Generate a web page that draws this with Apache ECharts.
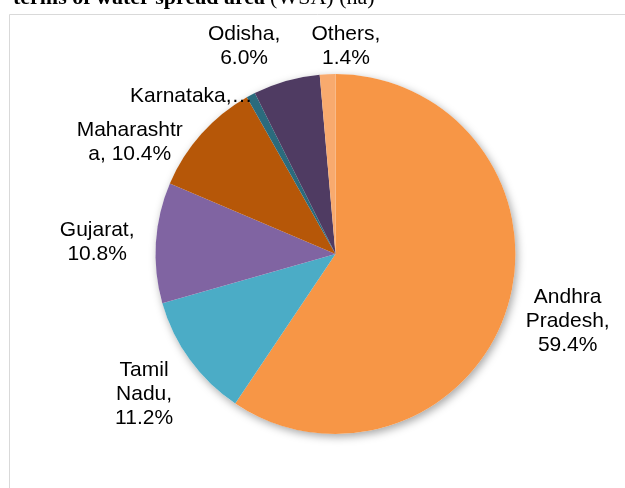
<!DOCTYPE html>
<html>
<head>
<meta charset="utf-8">
<script src="https://cdn.jsdelivr.net/npm/echarts@6/dist/echarts.min.js"></script>
<style>
  html, body { margin: 0; padding: 0; background: #fff; }
  #chart { width: 625px; height: 488px; }
</style>
</head>
<body>
<div id="chart"></div>
<script>
// share of water spread area, % (clockwise from 12 o'clock)
const states = ['Andhra Pradesh', 'Tamil Nadu', 'Gujarat', 'Maharashtra', 'Karnataka', 'Odisha', 'Others']
const shares = [59.4, 11.2, 10.8, 10.4, 0.8, 6.0, 1.4]
const colors = ['#F79646', '#4BACC6', '#8064A2', '#B65708', '#2B6B7D', '#4F3B62', '#F8AA6E']

// wrapping rules for the two labels Excel squeezed
const labelWrap = {
  Maharashtra: { width: 110, overflow: 'breakAll' },
  Karnataka: { width: 125, overflow: 'truncate', ellipsis: '…' }
}
// small shifts Excel applied to avoid collisions
const labelNudge = [[0, -3], [0, 1], [-8, 3], [-20, 54], [-35, 47], [-30, 9], [20, 9]]

const center = [335.5, 254]
const radius = 180
const labelGap = 12
const total = shares.reduce((a, b) => a + b, 0)

const chart = echarts.init(document.getElementById('chart'), null, { renderer: 'canvas' })

const placeLabel = (params) => {
  const i = params.dataIndex
  const before = shares.slice(0, i).reduce((a, b) => a + b, 0)
  const mid = (before + shares[i] / 2) / total * Math.PI * 2
  const dx = Math.sin(mid)
  const dy = -Math.cos(mid)
  const w = params.labelRect.width
  const h = params.labelRect.height
  const d = radius + labelGap + w / 2 * Math.abs(dx) + h / 2 * Math.abs(dy)
  return {
    x: center[0] + dx * d + labelNudge[i][0],
    y: center[1] + dy * d + labelNudge[i][1],
    align: 'center',
    verticalAlign: 'middle'
  }
}

chart.setOption({
  animation: false,
  backgroundColor: '#fff',
  title: {
    text: '{b|terms of water spread area} {r|(WSA) (ha)}',
    left: 13,
    top: -13,
    padding: 0,
    textStyle: {
      rich: {
        b: { fontFamily: 'Liberation Serif', fontSize: 22, fontWeight: 'bold', color: '#000', lineHeight: 22 },
        r: { fontFamily: 'Liberation Serif', fontSize: 22, fontWeight: 'normal', color: '#000', lineHeight: 22 }
      }
    }
  },
  graphic: [{
    type: 'rect',
    silent: true,
    shape: { x: 9.5, y: 14.5, width: 700, height: 600 },
    style: { fill: 'none', stroke: '#D9D9D9', lineWidth: 1 }
  }],
  series: [
    {
      // plain disc underneath, only to cast the pie's soft shadow
      type: 'pie',
      z: 1,
      silent: true,
      center: center,
      radius: radius,
      label: { show: false },
      labelLine: { show: false },
      itemStyle: {
        color: '#fff',
        shadowBlur: 8,
        shadowOffsetX: 2,
        shadowOffsetY: 3,
        shadowColor: 'rgba(0, 0, 0, 0.35)'
      },
      data: [{ value: total }]
    },
    {
      type: 'pie',
      z: 2,
      center: center,
      radius: radius,
      startAngle: 90,
      clockwise: true,
      avoidLabelOverlap: false,
      itemStyle: { borderWidth: 0 },
      emphasis: { disabled: true },
      label: {
        show: true,
        position: 'outside',
        fontFamily: 'Liberation Sans, Arial, sans-serif',
        fontSize: 21,
        lineHeight: 24,
        color: '#000',
        formatter: (p) => {
          const t = `${p.name}, ${p.value.toFixed(1)}%`
          return labelWrap[p.name] ? t : t.split(' ').join('\n')
        }
      },
      labelLine: { show: false },
      labelLayout: placeLabel,
      data: states.map((name, i) => ({
        name,
        value: shares[i],
        itemStyle: { color: colors[i] },
        label: labelWrap[name] || {}
      }))
    }
  ]
})
</script>
</body>
</html>
